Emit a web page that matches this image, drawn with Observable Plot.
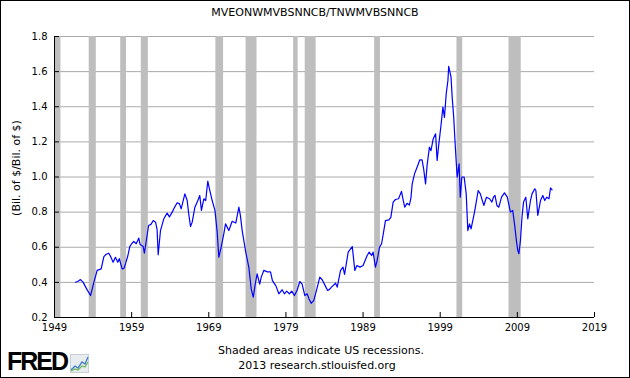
<!DOCTYPE html>
<html><head><meta charset="utf-8">
<script src="https://cdn.jsdelivr.net/npm/d3@7"></script>
<script src="https://cdn.jsdelivr.net/npm/@observablehq/plot@0.6"></script>
<style>
body{margin:0;background:#fff;}
#wrap{position:relative;width:630px;height:378px;overflow:hidden;font-family:"DejaVu Sans",sans-serif;color:#000;background:#fff;}
#wrap svg{position:absolute;left:0;top:0;}
.t{position:absolute;white-space:nowrap;font-size:11px;line-height:13px;}
#border{position:absolute;left:0;top:0;width:630px;height:378px;box-sizing:border-box;border:1px solid #000;pointer-events:none;}
</style></head><body>
<div id="wrap">
  <div class="t" style="left:315px;top:6px;transform:translateX(-50%)">MVEONWMVBSNNCB/TNWMVBSNNCB</div>
  <div class="t" style="left:16px;top:168px;transform:translate(-50%,-50%) rotate(-90deg)">(Bil. of $/Bil. of $)</div>
  <div class="t" style="left:321px;top:344px;transform:translateX(-50%)">Shaded areas indicate US recessions.</div>
  <div class="t" style="left:317px;top:359px;transform:translateX(-50%)">2013 research.stlouisfed.org</div>
  <div class="t" style="left:7px;top:349px;font-family:'Liberation Sans',Arial,sans-serif;font-weight:bold;font-size:25px;line-height:25px;letter-spacing:-2px;">FRED</div>
  <svg style="left:70px;top:354px" width="19" height="19" viewBox="0 0 19 19">
    <rect x="0.5" y="0.5" width="18" height="18" fill="#e8ecef" stroke="#c8d0d8"/>
    <polyline points="1,16 5,12 8,14 12,8 15,10 18,3" fill="none" stroke="#3a78c8" stroke-width="1.3"/>
    <polyline points="1,17 5,15 8,16 12,12 15,13 18,8" fill="none" stroke="#6cb85a" stroke-width="1.3"/>
  </svg>
  <div id="chart"></div>
  <div id="border"></div>
</div>
<script>
const years = [1951.72,1952.0,1952.37,1952.72,1953.2,1953.67,1954.1,1954.53,1955.05,1955.4,1955.7,1956.04,1956.3,1956.6,1956.9,1957.2,1957.4,1957.77,1958.0,1958.2,1958.5,1958.76,1959.0,1959.28,1959.6,1959.93,1960.1,1960.5,1960.65,1961.0,1961.2,1961.5,1961.8,1962.1,1962.3,1962.44,1962.74,1963.17,1963.6,1963.9,1964.26,1964.6,1964.9,1965.2,1965.42,1965.9,1966.2,1966.4,1966.63,1966.85,1967.2,1967.5,1967.83,1968.05,1968.36,1968.6,1968.87,1969.1,1969.44,1969.8,1970.09,1970.3,1970.6,1970.95,1971.17,1971.6,1972.03,1972.5,1972.9,1973.1,1973.33,1973.76,1974.19,1974.5,1974.76,1975.06,1975.27,1975.6,1975.8,1976.13,1976.6,1977.0,1977.25,1977.7,1978.08,1978.5,1978.8,1979.1,1979.45,1979.75,1980.1,1980.45,1980.8,1981.1,1981.45,1981.75,1982.0,1982.27,1982.6,1982.96,1983.39,1983.7,1984.1,1984.4,1984.65,1984.9,1985.43,1985.65,1986.08,1986.4,1986.6,1987.07,1987.6,1987.93,1988.2,1988.6,1989.0,1989.53,1989.8,1990.1,1990.3,1990.6,1990.8,1991.13,1991.4,1991.69,1991.9,1992.35,1992.6,1992.9,1993.2,1993.6,1993.98,1994.2,1994.4,1994.7,1995.0,1995.2,1995.37,1995.67,1996.0,1996.36,1996.65,1996.85,1997.1,1997.3,1997.6,1997.8,1998.1,1998.4,1998.6,1998.8,1999.1,1999.35,1999.55,1999.78,2000.0,2000.1,2000.4,2000.55,2000.75,2000.9,2001.05,2001.2,2001.45,2001.6,2001.8,2002.1,2002.37,2002.58,2002.8,2003.0,2003.4,2003.6,2003.92,2004.2,2004.65,2005.0,2005.4,2005.7,2005.9,2006.1,2006.35,2006.6,2006.95,2007.33,2007.7,2008.1,2008.4,2008.63,2008.9,2009.06,2009.2,2009.4,2009.6,2009.8,2010.1,2010.35,2010.7,2010.9,2011.26,2011.4,2011.65,2012.0,2012.3,2012.55,2012.8,2013.1,2013.3,2013.5];
const values = [0.401,0.405,0.416,0.400,0.360,0.325,0.400,0.468,0.477,0.547,0.560,0.566,0.545,0.515,0.543,0.515,0.535,0.477,0.480,0.505,0.550,0.604,0.620,0.633,0.620,0.652,0.615,0.604,0.566,0.667,0.724,0.730,0.752,0.743,0.700,0.557,0.695,0.762,0.794,0.773,0.800,0.830,0.853,0.847,0.819,0.904,0.866,0.790,0.718,0.743,0.828,0.857,0.895,0.810,0.876,0.866,0.976,0.930,0.866,0.810,0.686,0.543,0.600,0.677,0.733,0.695,0.748,0.738,0.828,0.780,0.695,0.580,0.486,0.363,0.316,0.400,0.449,0.390,0.430,0.468,0.460,0.460,0.410,0.380,0.335,0.358,0.335,0.350,0.335,0.350,0.325,0.355,0.405,0.390,0.325,0.335,0.306,0.281,0.296,0.354,0.430,0.415,0.380,0.354,0.360,0.373,0.395,0.373,0.468,0.487,0.445,0.572,0.604,0.468,0.496,0.487,0.496,0.553,0.572,0.553,0.572,0.487,0.520,0.600,0.620,0.695,0.752,0.756,0.770,0.857,0.872,0.876,0.918,0.868,0.828,0.850,0.840,0.880,0.961,1.018,1.056,1.098,1.098,1.047,0.961,1.066,1.170,1.150,1.218,1.246,1.094,1.180,1.293,1.398,1.340,1.474,1.550,1.630,1.570,1.455,1.340,1.218,1.104,0.999,1.075,0.885,1.000,1.000,0.904,0.695,0.733,0.705,0.790,0.838,0.923,0.904,0.838,0.885,0.876,0.857,0.885,0.895,0.838,0.828,0.885,0.910,0.885,0.800,0.810,0.733,0.629,0.581,0.563,0.638,0.771,0.857,0.885,0.762,0.866,0.904,0.933,0.923,0.781,0.866,0.895,0.866,0.885,0.876,0.938,0.927];
const recessionStart = [1948.833,1953.5,1957.583,1960.25,1969.917,1973.833,1980.0,1981.5,1990.5,2001.167,2007.917];
const recessionEnd   = [1949.833,1954.417,1958.333,1961.167,1970.917,1975.25,1980.583,1982.917,1991.25,2001.917,2009.5];
const xTicks = [1949,1959,1969,1979,1989,1999,2009,2019];
const yTicks = [0.2,0.4,0.6,0.8,1.0,1.2,1.4,1.6,1.8];

const series = years.map((x, i) => ({x, y: values[i]}));
const recessions = recessionStart.map((s, i) => ({s, e: recessionEnd[i]}));

const chart = Plot.plot({
  width: 630, height: 378,
  marginLeft: 54, marginRight: 36, marginTop: 36, marginBottom: 61,
  style: {fontFamily: "DejaVu Sans", fontSize: "10px", color: "#000", background: "transparent", overflow: "visible"},
  x: {type: "linear", domain: [1949, 2019], label: null},
  y: {domain: [0.2, 1.8], label: null},
  marks: [
    Plot.ruleY(yTicks.slice(1), {stroke: "#aaaaaa", strokeWidth: 1}),
    Plot.rect(recessions, {x1: "s", x2: "e", fill: "#bebebe", clip: true}),
    Plot.line(series, {x: "x", y: "y", stroke: "#0000ff", strokeWidth: 1.2}),
    Plot.ruleX([1949], {stroke: "#000"}),
    Plot.ruleY([0.2], {stroke: "#000"}),
    Plot.axisX({ticks: xTicks, tickFormat: d => String(d), tickSize: -5, tickPadding: 11, label: null}),
    Plot.axisY({ticks: yTicks, tickFormat: d => d.toFixed(1), tickSize: -5, tickPadding: 12, label: null})
  ]
});
document.getElementById("chart").appendChild(chart);
</script>
</body></html>
